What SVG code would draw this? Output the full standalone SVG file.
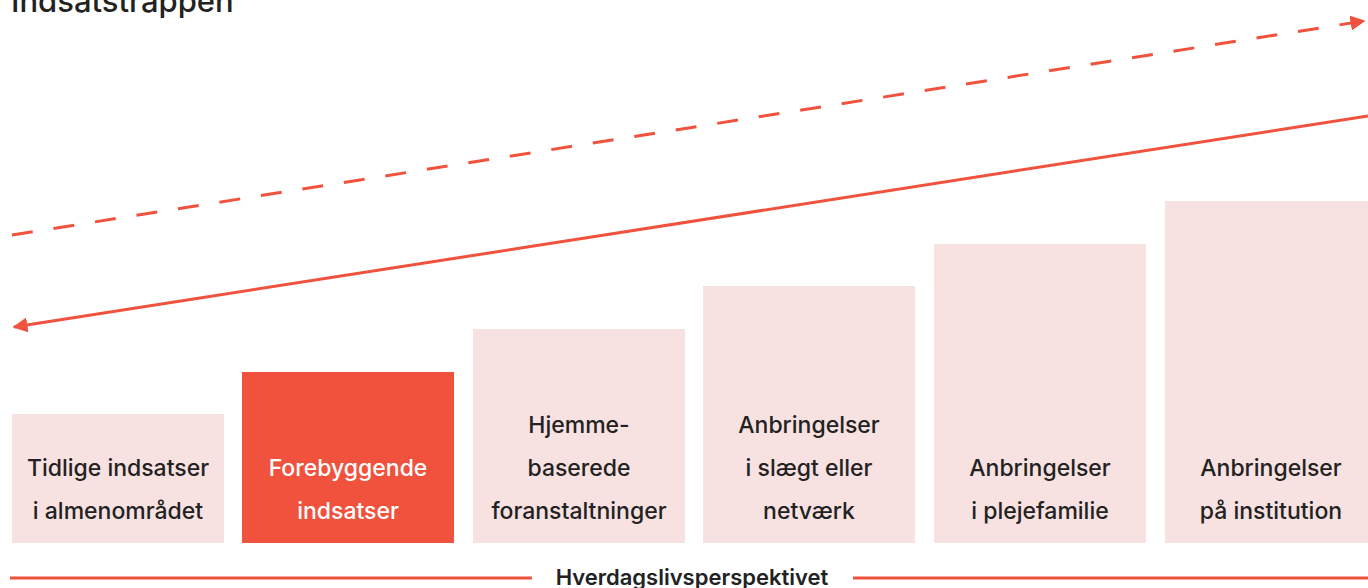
<svg xmlns="http://www.w3.org/2000/svg" width="1368" height="588" viewBox="0 0 1368 588">
<style>
.box{fill:#F8E1E1}
.hl{fill:#F0523D}
.t{font-family:Inter,"Liberation Sans",sans-serif;font-weight:500;font-size:23px;fill:#222;text-anchor:middle}
.tw{fill:#fff}
.ln{stroke:#F0523D;stroke-width:3;fill:none}
</style>
<defs>
<marker id="ah" viewBox="0 0 10 10" refX="9" refY="5" markerWidth="5" markerHeight="5" markerUnits="strokeWidth" orient="auto">
<path d="M0,0 L10,5 L0,10 Z" fill="#F0523D"/>
</marker>
</defs>
<rect width="1368" height="588" fill="#fff"/>
<text x="11" y="12" style="font-family:Inter,'Liberation Sans',sans-serif;font-weight:500;font-size:31px;fill:#222">Indsatstrappen</text>
<g id="connectors">
<line class="ln" x1="12" y1="235" x2="1364" y2="21" stroke-dasharray="21 21" marker-end="url(#ah)"/>
<line class="ln" x1="1368" y1="116" x2="14" y2="327" marker-end="url(#ah)"/>
<line class="ln" x1="10" y1="578" x2="532" y2="578"/>
<line class="ln" x1="853" y1="578" x2="1368" y2="578"/>
</g>
<g id="n1"><rect class="box" x="12" y="414" width="212" height="129"/><text class="t" x="118" y="476">Tidlige indsatser</text><text class="t" x="118" y="519">i almenområdet</text></g>
<g id="n2"><rect class="hl" x="242" y="372" width="212" height="171"/><text class="t tw" x="348" y="476">Forebyggende</text><text class="t tw" x="348" y="519">indsatser</text></g>
<g id="n3"><rect class="box" x="473" y="329" width="212" height="214"/><text class="t" x="579" y="433">Hjemme-</text><text class="t" x="579" y="476">baserede</text><text class="t" x="579" y="519">foranstaltninger</text></g>
<g id="n4"><rect class="box" x="703" y="286" width="212" height="257"/><text class="t" x="809" y="433">Anbringelser</text><text class="t" x="809" y="476">i slægt eller</text><text class="t" x="809" y="519">netværk</text></g>
<g id="n5"><rect class="box" x="934" y="244" width="212" height="299"/><text class="t" x="1040" y="476">Anbringelser</text><text class="t" x="1040" y="519">i plejefamilie</text></g>
<g id="n6"><rect class="box" x="1165" y="201" width="212" height="342"/><text class="t" x="1271" y="476">Anbringelser</text><text class="t" x="1271" y="519">på institution</text></g>
<text class="t" x="692" y="585" style="font-size:22px;font-weight:600">Hverdagslivsperspektivet</text>
</svg>
